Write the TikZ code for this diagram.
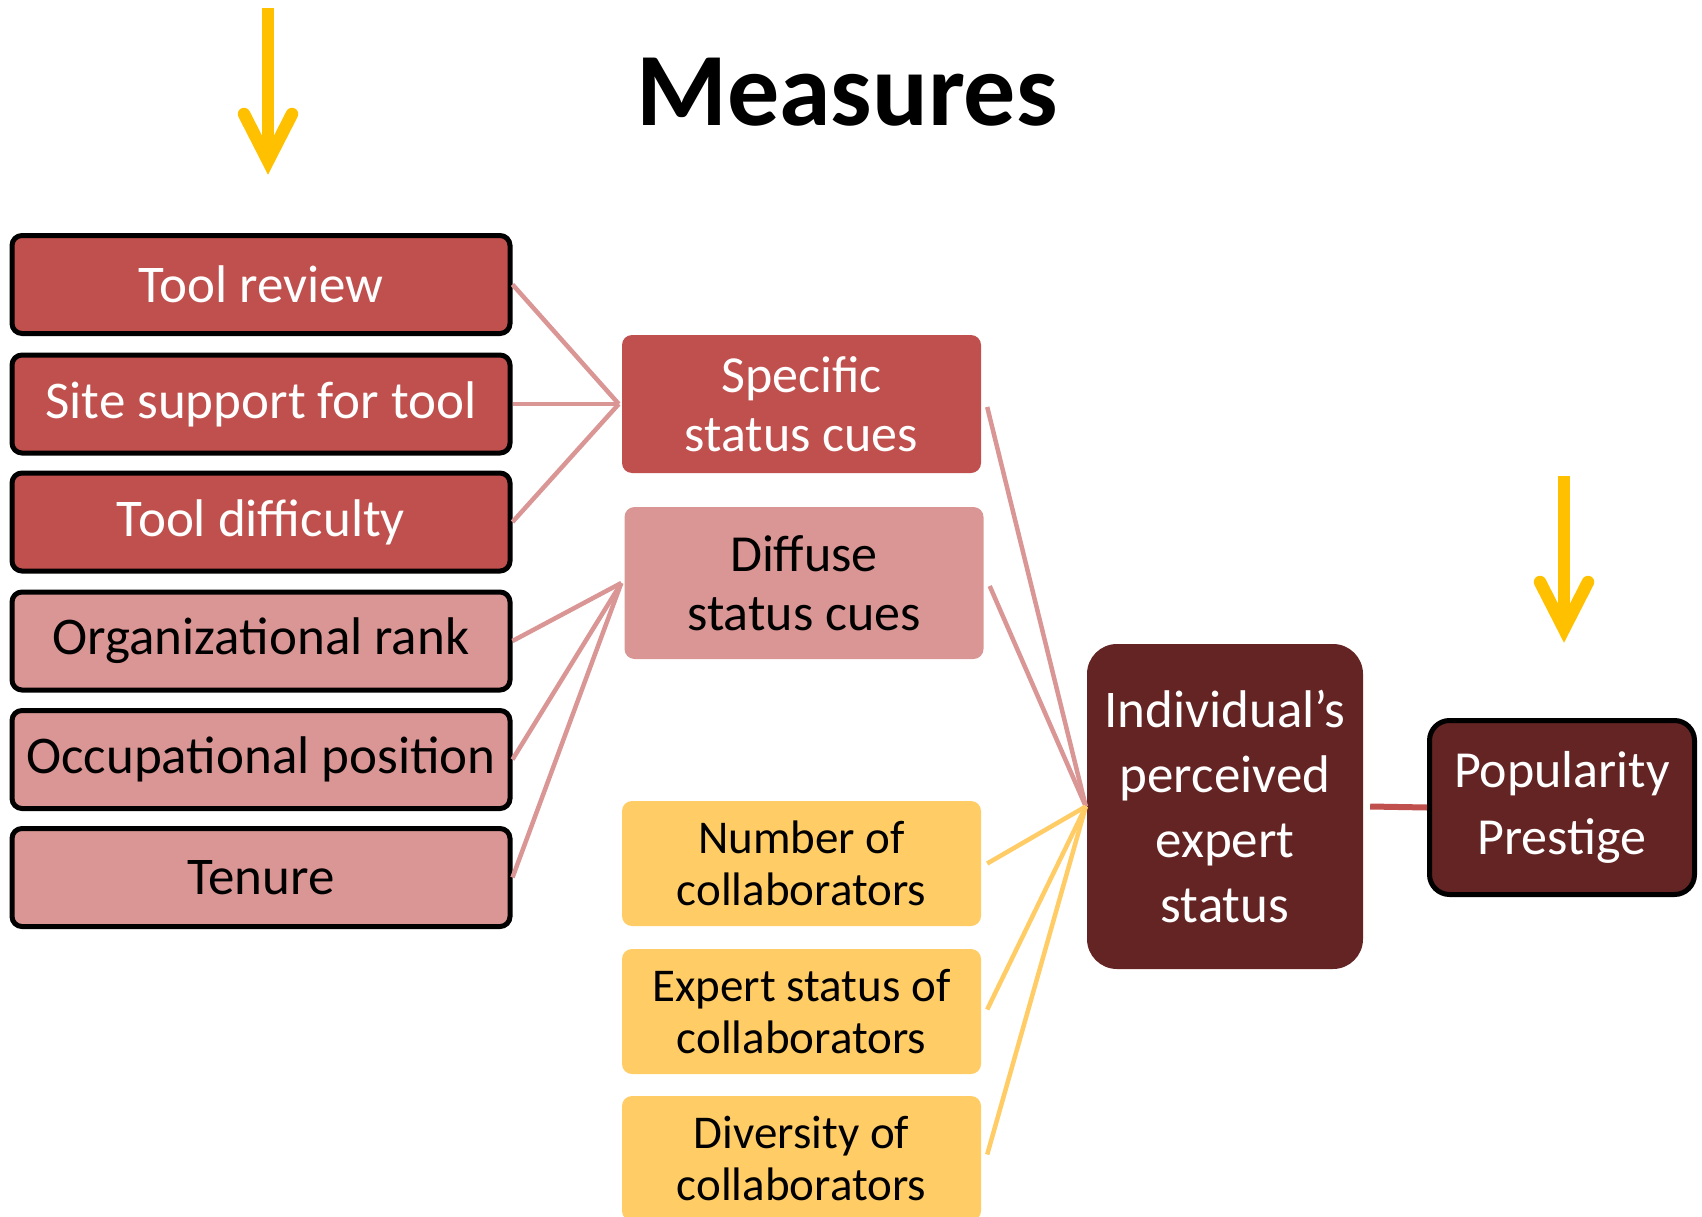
\documentclass[tikz,border=0pt]{standalone}
\usepackage{fontspec}
\setmainfont{Carlito}
\usetikzlibrary{calc}
\definecolor{cuered}{HTML}{C0504D}
\definecolor{cuepink}{HTML}{D99694}
\definecolor{cueyellow}{HTML}{FFCC66}
\definecolor{cuedark}{HTML}{632423}
\definecolor{arrowgold}{HTML}{FFC000}
\begin{document}
\begin{tikzpicture}[x=1pt,y=-1pt,
  leftbox/.style={draw=black, line width=5pt, rounded corners=10pt,
    minimum width=498pt, minimum height=98pt, inner sep=0pt,
    font=\fontsize{53}{60}\selectfont},
  redfill/.style={fill=cuered, text=white},
  pinkfill/.style={fill=cuepink, text=black},
  midbox/.style={rounded corners=10pt, minimum width=359pt, inner sep=0pt,
    align=center, font=\fontsize{52}{59}\selectfont},
  yelbox/.style={midbox, fill=cueyellow, text=black, minimum height=125pt,
    font=\fontsize{47}{52}\selectfont},
  pinkline/.style={draw=cuepink, line width=4.5pt},
  yelline/.style={draw=cueyellow, line width=4.5pt},
  goldarrow/.style={draw=arrowgold, line width=12.5pt},
  goldhead/.style={draw=arrowgold, line width=12.5pt, line cap=round, line join=miter}
]
\useasboundingbox (0,0) rectangle (1702,1217);

% title
\node (title) at (847,92) {\fontsize{104}{110}\selectfont\bfseries Measures};

% left column of measures
\node[leftbox, redfill]  (review) at (261,284.5) {Tool review};
\node[leftbox, redfill]  (site)   at (261,404)   {Site support for tool};
\node[leftbox, redfill]  (diffc)  at (261,522)   {Tool difficulty};
\node[leftbox, pinkfill] (rank)   at (261,641)   {Organizational rank};
\node[leftbox, pinkfill] (occ)    at (261,759.5) {Occupational position};
\node[leftbox, pinkfill] (tenure) at (261,877.5) {Tenure};

% middle column
\node[midbox, fill=cuered, text=white, minimum height=138pt] (spec) at (801.5,404)
  {Specific\\status cues};
\node[midbox, fill=cuepink, text=black, minimum height=152pt] (diff) at (804,583)
  {Diffuse\\status cues};
\node[yelbox] (num)  at (801.5,863.5) {Number of\\collaborators};
\node[yelbox] (exp)  at (801.5,1011.5) {Expert status of\\collaborators};
\node[yelbox] (divr) at (801.5,1158.5) {Diversity of\\collaborators};

% outcome boxes
\node[fill=cuedark, text=white, rounded corners=30pt, minimum width=276pt,
  minimum height=325pt, inner sep=0pt, align=center,
  font=\fontsize{53}{65}\selectfont] (indiv) at (1225,806.5)
  {Individual’s\\perceived\\expert\\status};
\node[draw=black, line width=5pt, fill=cuedark, text=white, rounded corners=20pt,
  minimum width=265pt, minimum height=174pt, inner sep=0pt, align=center,
  font=\fontsize{52}{67}\selectfont] (pop) at (1562,807.5)
  {\raisebox{-4pt}{Popularity}\\\raisebox{-4pt}{Prestige}};

% meeting points of the connectors
\coordinate (specin) at ($(spec.west)+(-3,0)$);
\coordinate (diffin) at ($(diff.west)+(-3,0)$);
\coordinate (indin)  at ($(indiv.west)+(-1,0)$);

% connectors
\draw[pinkline] (review.east) -- (specin);
\draw[pinkline] (site.east)   -- (specin);
\draw[pinkline] (diffc.east)  -- (specin);
\draw[pinkline] (rank.east)   -- (diffin);
\draw[pinkline] (occ.east)    -- (diffin);
\draw[pinkline] (tenure.east) -- (diffin);
\draw[pinkline] ($(spec.east)+(6,3)$) -- (indin);
\draw[pinkline] ($(diff.east)+(6,3)$) -- (indin);
\draw[yelline] ($(num.east)+(6,0)$)  -- (indin);
\draw[yelline] ($(exp.east)+(6,-2)$) -- (indin);
\draw[yelline] ($(divr.east)+(6,-4)$) -- (indin);
\draw[draw=cuered, line width=6pt] ($(indiv.east)+(7,0)$) -- (pop.west);

% gold arrows
\coordinate (la1) at (268,8);
\coordinate (la2) at (268,156);
\draw[goldarrow] (la1) -- (la2);
\draw[goldhead] ($(la2)+(-24,-42)$) -- ($(la2)+(0,5)$) -- ($(la2)+(24,-42)$);
\coordinate (ra1) at (1564,476);
\coordinate (ra2) at (1564,624);
\draw[goldarrow] (ra1) -- (ra2);
\draw[goldhead] ($(ra2)+(-24,-42)$) -- ($(ra2)+(0,5)$) -- ($(ra2)+(24,-42)$);
\end{tikzpicture}
\end{document}
